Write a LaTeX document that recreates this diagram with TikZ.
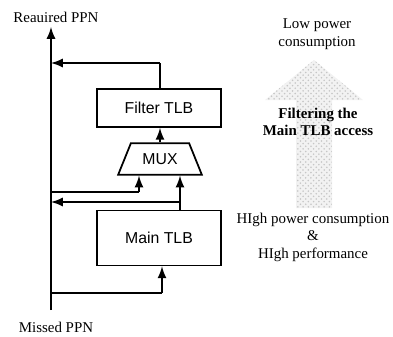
\documentclass[tikz,border=0pt]{standalone}
\usepackage{fontspec}
\setmainfont{Liberation Serif}
\newfontfamily\boxfont{Liberation Sans}
\usetikzlibrary{patterns,shapes,arrows,calc,positioning}

\begin{document}
\begin{tikzpicture}[x=0.02cm, y=0.02cm,
    blk/.style={draw, line width=1pt, minimum width=2.48cm, font=\boxfont\fontsize{9}{10}\selectfont},
    bus/.style={line width=1.3pt},
    sig/.style={line width=1.3pt, -latex},
    lbl/.style={font=\fontsize{8.5}{10}\selectfont, align=center}]
        \useasboundingbox (0,0) rectangle (393,336);
        % Bus PPN
        \coordinate (missed) at (51,26);
        \coordinate (req) at (51,309);
        \draw[sig] (missed) -- (req);
        \node[lbl] (reqlbl) at (56,319) {Reauired PPN};
        \node[lbl] (misslbl) at (56,9) {Missed PPN};
        % TLB blocks
        \node[blk, minimum height=0.76cm] (filter) at (159,228) {Filter TLB};
        \node[blk, shape=trapezium, trapezium left angle=68, trapezium right angle=68,
              minimum height=0.56cm, minimum width=1.68cm, inner xsep=2pt] (mux) at (160,177) {MUX};
        \node[blk, minimum height=1.1cm] (main) at (159,98) {Main TLB};
        % Connections
        \coordinate (fout) at (160,273);
        \draw[bus] (filter.north -| fout) -- (fout);
        \draw[sig] (fout) -- (fout -| req);
        \draw[sig] (mux.north -| fout) -- (filter.south -| fout);
        \coordinate (mout) at (180,134);
        \draw[sig] (main.north -| mout) -- (mux.south -| mout);
        \draw[sig] (mout) -- (mout -| req);
        \coordinate (min) at (139,144);
        \draw[bus] (min -| req) -- (min);
        \draw[sig] (min) -- (mux.south -| min);
        \coordinate (tin) at (162,43);
        \draw[bus] (tin -| req) -- (tin);
        \draw[sig] (tin) -- (main.south -| tin);
        % Big arrow
        \path[fill=gray!10] (296,128) -- (296,236) -- (265,236) -- (314,276) -- (363,236) -- (332,236) -- (332,128) -- cycle;
        \path[pattern=crosshatch dots, pattern color=gray!45] (296,128) -- (296,236) -- (265,236) -- (314,276) -- (363,236) -- (332,236) -- (332,128) -- cycle;
        \node[lbl] (low) at (317,302) {Low power\\consumption};
        \node[lbl, font=\bfseries\fontsize{8.5}{10}\selectfont] (filt) at (318,214) {Filtering the\\Main TLB access};
        \node[lbl] (high) at (313,99) {HIgh power consumption\\\&\\HIgh performance};
\end{tikzpicture}
\end{document}
